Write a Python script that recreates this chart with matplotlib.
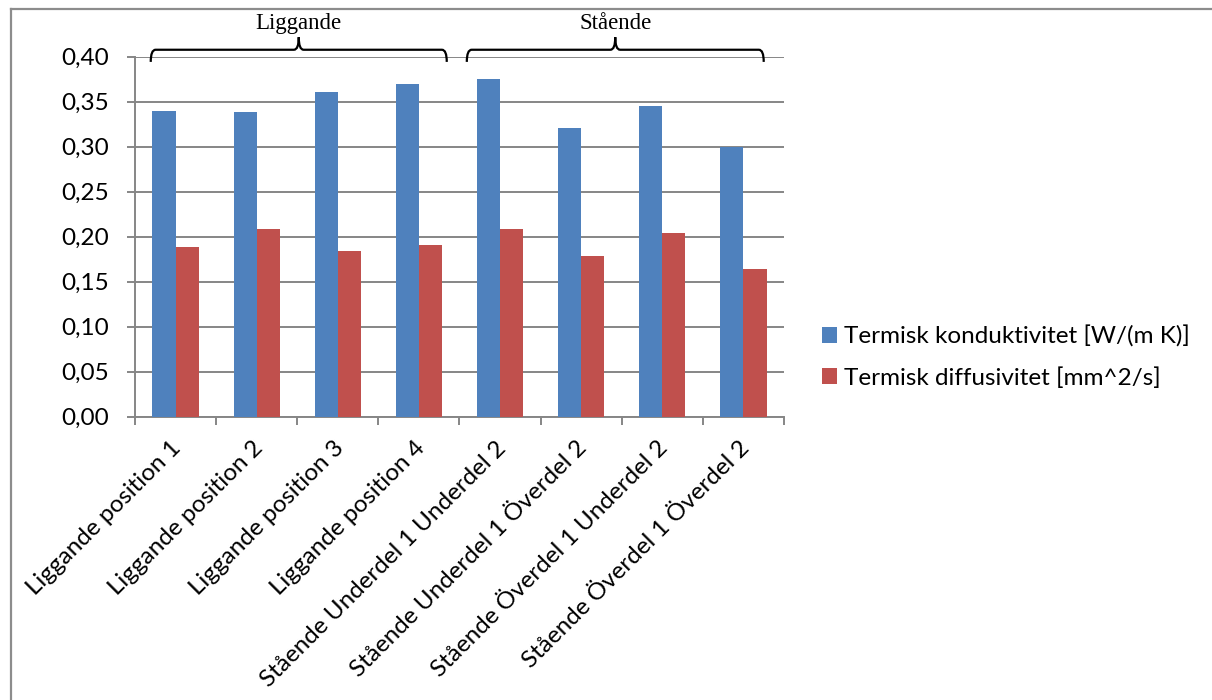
import matplotlib
matplotlib.use("Agg")
import matplotlib.pyplot as plt
import matplotlib.transforms as mtransforms
from matplotlib.path import Path
from matplotlib.patches import PathPatch
from matplotlib.lines import Line2D
import numpy as np

# --- data ---------------------------------------------------------------
categories = [
    "Liggande position 1",
    "Liggande position 2",
    "Liggande position 3",
    "Liggande position 4",
    "Stående Underdel 1 Underdel 2",
    "Stående Underdel 1 Överdel 2",
    "Stående Överdel 1 Underdel 2",
    "Stående Överdel 1 Överdel 2",
]
konduktivitet = [0.339, 0.338, 0.361, 0.369, 0.375, 0.321, 0.345, 0.300]
diffusivitet = [0.188, 0.208, 0.184, 0.191, 0.208, 0.178, 0.2035, 0.164]
series_names = ["Termisk konduktivitet [W/(m K)]", "Termisk diffusivitet [mm^2/s]"]
yticks = [0.00, 0.05, 0.10, 0.15, 0.20, 0.25, 0.30, 0.35, 0.40]
groups = ["Liggande", "Stående"]

# --- style --------------------------------------------------------------
BLUE = "#4F81BD"
RED = "#C0504D"
GRID = "#868686"
FONT = "Lato"
SERIF = "Liberation Serif"
FS = 17.5

W, H = 1212, 700
fig = plt.figure(figsize=(W / 100, H / 100), dpi=100)
fig.patch.set_facecolor("white")

ax = fig.add_axes([135 / W, (H - 416.5) / H, (784 - 135) / W, (416.5 - 56.5) / H])

x = np.arange(len(categories))
bw = 1 / 3.5
ax.bar(x - bw / 2, konduktivitet, width=bw, color=BLUE, label=series_names[0], zorder=3)
ax.bar(x + bw / 2, diffusivitet, width=bw, color=RED, label=series_names[1], zorder=3)

ax.set_xlim(-0.5, len(categories) - 0.5)
ax.set_ylim(0, 0.40)
ax.set_yticks(yticks)
ax.set_yticklabels([f"{v:.2f}".replace(".", ",") for v in yticks],
                   fontsize=FS, family=FONT)
ax.yaxis.grid(True, color=GRID, linewidth=1.4, zorder=0)
ax.set_axisbelow(True)

# category ticks on boundaries, labels at centres
ax.set_xticks(np.arange(len(categories) + 1) - 0.5)
ax.set_xticklabels([])
ax.set_xticks(x, minor=True)
ax.set_xticklabels(categories, minor=True, rotation=45, ha="right", va="top",
                   fontsize=FS, family=FONT, rotation_mode="anchor")
ax.tick_params(axis="x", which="minor", length=0, pad=15)
ax.tick_params(axis="x", which="major", length=5.8, width=1.4, color=GRID, direction="out")
ax.tick_params(axis="y", length=5.8, width=1.4, color=GRID, direction="out", pad=13)

# nudge rotated category labels slightly left
shift = mtransforms.ScaledTranslation(-5 / 100, 0, fig.dpi_scale_trans)
for lbl in ax.get_xticklabels(minor=True):
    lbl.set_transform(lbl.get_transform() + shift)

for side in ("top", "right"):
    ax.spines[side].set_visible(False)
for side in ("left", "bottom"):
    ax.spines[side].set_color(GRID)
    ax.spines[side].set_linewidth(1.4)

# legend
leg = fig.legend(loc="center left", bbox_to_anchor=(822 / W, 1 - 357 / H),
                 frameon=False, prop={"family": FONT, "size": FS},
                 borderpad=0, borderaxespad=0,
                 handlelength=0.6, handleheight=0.6, handletextpad=0.3,
                 labelspacing=0.8)

# group braces above the plot
def brace(x0, x1, yb, yh, yt, r=0.06):
    xc = (x0 + x1) / 2
    verts = [
        (x0, yb), (x0, yh), (x0 + r, yh),
        (xc - r, yh),
        (xc, yh), (xc, yt),
        (xc, yh), (xc + r, yh),
        (x1 - r, yh),
        (x1, yh), (x1, yb),
    ]
    codes = [Path.MOVETO, Path.CURVE3, Path.CURVE3,
             Path.LINETO,
             Path.CURVE3, Path.CURVE3,
             Path.CURVE3, Path.CURVE3,
             Path.LINETO,
             Path.CURVE3, Path.CURVE3]
    return PathPatch(Path(verts, codes), facecolor="none", edgecolor="black",
                     linewidth=1.6, clip_on=False, zorder=5)

spans = [(-0.306, 3.343), (3.59, 7.25)]
for (a, b), name in zip(spans, groups):
    ax.add_patch(brace(a, b, 0.394, 0.4075, 0.4215))
    ax.text((a + b) / 2, 0.4255, name, ha="center", va="bottom",
            family=SERIF, fontsize=16.5, clip_on=False)

# outer chart frame (left and top edges)
fig.add_artist(Line2D([11 / W, 11 / W], [0, 1 - 9 / H], color="#8c8c8c",
                      linewidth=1.6, transform=fig.transFigure))
fig.add_artist(Line2D([11 / W, 1], [1 - 9 / H, 1 - 9 / H], color="#8c8c8c",
                      linewidth=1.6, transform=fig.transFigure))

fig.savefig("out.png", dpi=100)
